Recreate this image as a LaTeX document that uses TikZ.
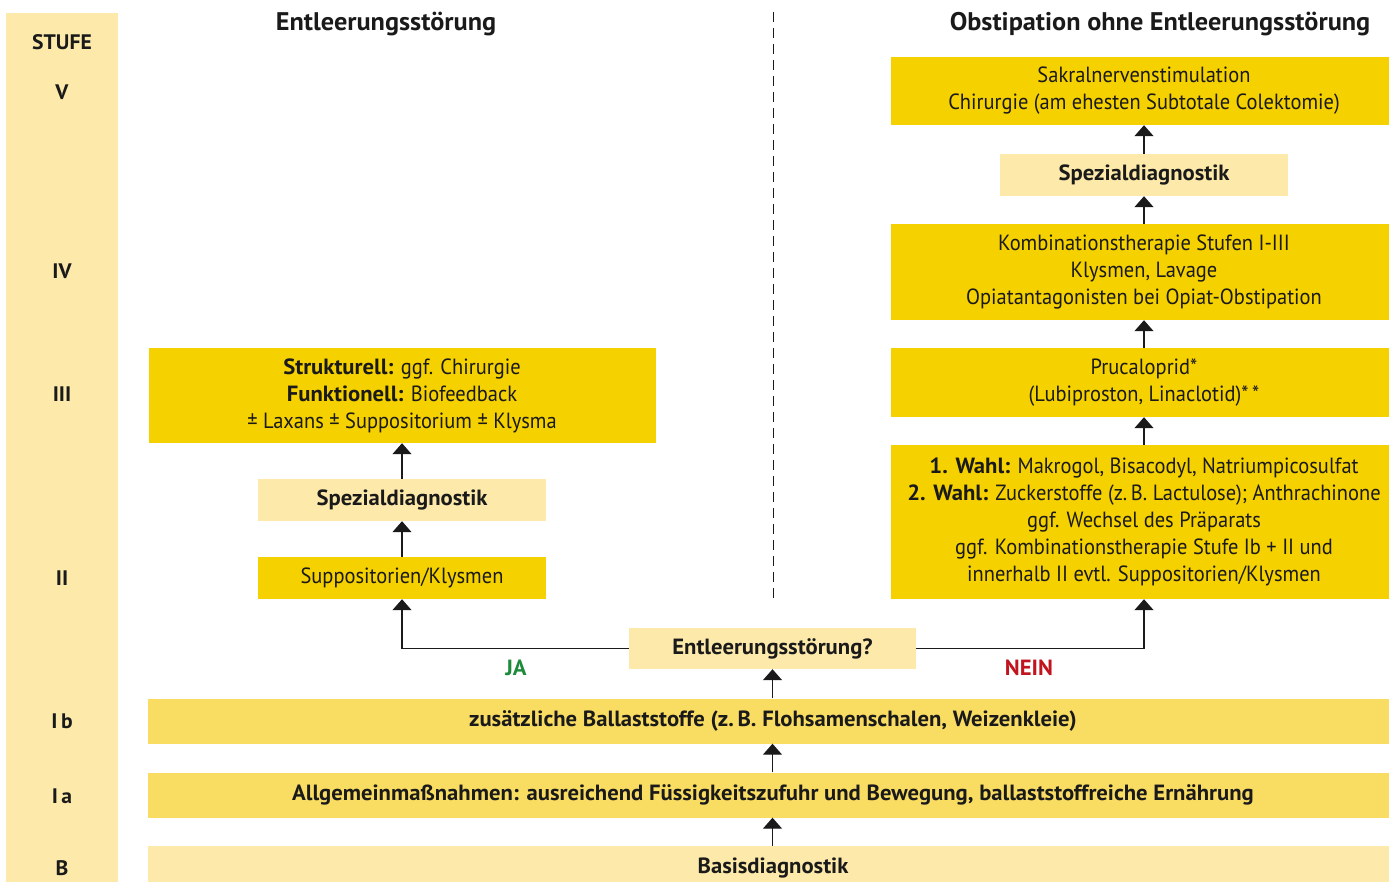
\documentclass[tikz,border=0pt]{standalone}
\usepackage{fontspec}
\setmainfont[FakeStretch=0.93,BoldFeatures={FakeStretch=1.03}]{PT Sans}
\usetikzlibrary{arrows.meta}
\definecolor{dk}{HTML}{F6D100}
\definecolor{md}{HTML}{F9DC62}
\definecolor{lt}{HTML}{FDEAAA}
\definecolor{ja}{HTML}{1E8A3C}
\definecolor{nein}{HTML}{C0141E}
\definecolor{ink}{HTML}{1A1A1A}
\begin{document}
\begin{tikzpicture}[x=1pt,y=-1pt,
  box/.style={inner sep=0pt, align=center, text=ink, font=\fontsize{22}{27}\selectfont},
  dkbox/.style={box, fill=dk},
  mdbox/.style={box, fill=md, font=\fontsize{22}{27}\selectfont\bfseries},
  ltbox/.style={box, fill=lt, font=\fontsize{22}{27}\selectfont\bfseries},
  lvl/.style={text=ink, font=\fontsize{21}{24}\selectfont\bfseries},
  head/.style={text=ink, font=\fontsize{25.5}{28}\selectfont\bfseries},
  arr/.style={draw=ink, line width=1.3pt, -{Triangle[width=19pt,length=11pt]}},
  conn/.style={draw=ink, line width=1.3pt}]
\useasboundingbox (0,0) rectangle (1389,881);
% STUFE column
\node[fill=lt, minimum width=112, minimum height=880, inner sep=0pt] (col) at (62,453) {};
\node[lvl] (sstufe) at (62,42) {STUFE};
\node[lvl] (sV) at (62,92) {V};
\node[lvl] (sIV) at (62,271) {IV};
\node[lvl] (sIII) at (62,394) {III};
\node[lvl] (sII) at (62,578) {II};
\node[lvl] (sIb) at (62,721) {I\,b};
\node[lvl] (sIa) at (62,796) {I\,a};
\node[lvl] (sB) at (62,868) {B};
% headers
\node[head] (hl) at (386,24) {Entleerungsstörung};
\node[head] (hr) at (1160,24) {Obstipation ohne Entleerungsstörung};
% dashed divider
\coordinate (dtop) at (773,12);
\coordinate (dbot) at (773,600);
\draw[ink, line width=1pt, dash pattern=on 10pt off 6pt] (dtop) -- (dbot);
% bottom rows
\node[ltbox, minimum width=1250, minimum height=44] (bas) at (773,868) {Basisdiagnostik};
\node[mdbox, minimum width=1250, minimum height=45] (ia) at (773,795) {Allgemeinmaßnahmen: ausreichend Füssigkeitszufuhr und Bewegung, ballaststoffreiche Ernährung};
\node[mdbox, minimum width=1250, minimum height=45] (ib) at (773,721) {zusätzliche Ballaststoffe (z.\,B. Flohsamenschalen, Weizenkleie)};
\node[ltbox, minimum width=287, minimum height=41] (q) at (772.5,648.5) {Entleerungsstörung?};
% left branch
\node[dkbox, minimum width=288, minimum height=42] (supp) at (402,578) {Suppositorien/Klysmen};
\node[ltbox, minimum width=288, minimum height=42] (spl) at (402,500) {Spezialdiagnostik};
\node[dkbox, minimum width=507, minimum height=95] (str) at (402,395.5) {\textbf{Strukturell:} ggf. Chirurgie\\\textbf{Funktionell:} Biofeedback\\± Laxans ± Suppositorium ± Klysma};
% right branch
\node[dkbox, minimum width=506, minimum height=154] (wahl) at (1144,522) {\textbf{1. Wahl:} Makrogol, Bisacodyl, Natriumpicosulfat\\\textbf{2. Wahl:} Zuckerstoffe (z.\,B. Lactulose); Anthrachinone\\ggf. Wechsel des Präparats\\ggf. Kombinationstherapie Stufe Ib + II und\\innerhalb II evtl. Suppositorien/Klysmen};
\node[dkbox, minimum width=506, minimum height=69] (pruc) at (1144,382.5) {Prucaloprid*\\(Lubiproston, Linaclotid)*\,*};
\node[dkbox, minimum width=506, minimum height=96] (komb) at (1144,272) {Kombinationstherapie Stufen I-III\\Klysmen, Lavage\\Opiatantagonisten bei Opiat-Obstipation};
\node[ltbox, minimum width=288, minimum height=42] (spr) at (1144,175) {Spezialdiagnostik};
\node[dkbox, minimum width=506, minimum height=68] (sak) at (1144,91) {Sakralnervenstimulation\\Chirurgie (am ehesten Subtotale Colektomie)};
% connectors
\draw[arr] (bas.north -| q) -- (ia.south -| q);
\draw[arr] (ia.north -| q) -- (ib.south -| q);
\draw[arr] (ib.north -| q) -- (q.south);
\draw[arr] (q.west) -| (supp.south);
\draw[arr] (q.east) -| (wahl.south);
\draw[arr] (supp.north) -- (spl.south);
\draw[arr] (spl.north) -- (str.south);
\draw[arr] (wahl.north) -- (pruc.south);
\draw[arr] (pruc.north) -- (komb.south);
\draw[arr] (komb.north) -- (spr.south);
\draw[arr] (spr.north) -- (sak.south);
% labels
\node[text=ja, font=\fontsize{22}{24}\selectfont\bfseries] (lja) at (516,668) {JA};
\node[text=nein, font=\fontsize{22}{24}\selectfont\bfseries] (lnein) at (1029,668) {NEIN};
\end{tikzpicture}
\end{document}
